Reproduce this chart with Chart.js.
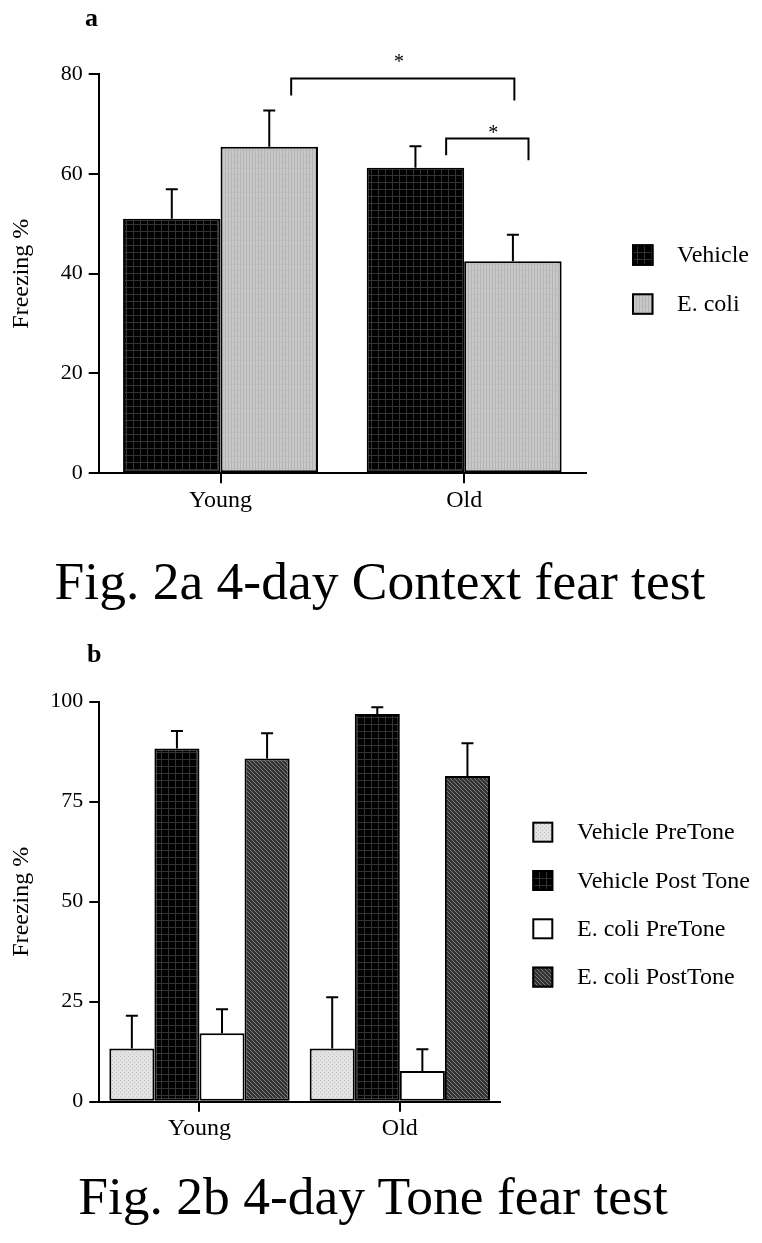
<!DOCTYPE html>
<html>
<head>
<meta charset="utf-8">
<script src="https://cdn.jsdelivr.net/npm/chart.js@4.4.1/dist/chart.umd.min.js"></script>
<style>
body{margin:0;background:#fff;width:762px;height:1243px;overflow:hidden;position:relative;font-family:'Liberation Serif','Times New Roman',serif;color:#000}
canvas{position:absolute;left:0}
#chartA{top:0}
#chartB{top:640px}
.panel{position:absolute;font-weight:bold;font-size:26px;line-height:26px}
.caption{position:absolute;font-size:53.5px;line-height:53.5px;white-space:nowrap;transform:translateX(-50%)}
</style>
</head>
<body>
<canvas id="chartA" width="762" height="530"></canvas>
<canvas id="chartB" width="762" height="530"></canvas>
<div class="panel" style="left:85px;top:5px">a</div>
<div class="panel" style="left:87px;top:641px">b</div>
<div class="caption" style="left:380px;top:555px">Fig. 2a 4-day Context fear test</div>
<div class="caption" style="left:373px;top:1170px">Fig. 2b 4-day Tone fear test</div>
<script>
//----------------------------------DATA-----------------------------------------------------------

const groups = ['Young', 'Old']

// fig 2a - context fear test
const ticksA = [0, 20, 40, 60, 80]
const vehicleA = [51.0, 61.2]
const vehicleErrA = [5.9, 4.3]
const ecoliA = [65.4, 42.5]
const ecoliErrA = [7.3, 5.3]
// significance brackets (x in category units, y in freezing %)
const bracketsA = [
    {from: 0.29, to: 1.206, top: 79.1, leftEnd: 75.7, rightEnd: 74.7, starX: 0.733, starY: 83.4},
    {from: 0.926, to: 1.264, top: 67.1, leftEnd: 63.7, rightEnd: 62.7, starX: 1.119, starY: 69.2},
]

// fig 2b - tone fear test
const ticksB = [0, 25, 50, 75, 100]
const vehPreB = [13.3, 13.3]
const vehPreErrB = [8.2, 12.8]
const vehPostB = [88.3, 96.9]
const vehPostErrB = [4.4, 1.7]
const ecoPreB = [17.1, 7.7]
const ecoPreErrB = [6.0, 5.4]
const ecoPostB = [85.8, 81.4]
const ecoPostErrB = [6.3, 8.2]

const FONT = "'Liberation Serif', 'Times New Roman', serif"

//----------------------------------PATTERNS-----------------------------------------------------------

function makePattern(size, base, drawFn){
    let c = document.createElement('canvas')
    c.width = size
    c.height = size
    let g = c.getContext('2d')
    g.fillStyle = base
    g.fillRect(0, 0, size, size)
    drawFn(g)
    return g.createPattern(c, 'repeat')
}

const blackGrid = makePattern(7, '#000', (g) => {
    g.fillStyle = '#333'
    g.fillRect(0, 0, 7, 1)
    g.fillRect(0, 0, 1, 7)
})
const greyLines = makePattern(6, '#c9c9c9', (g) => {
    g.fillStyle = '#b3b3b3'
    g.fillRect(0, 0, 1, 6)
    g.fillRect(3, 0, 1, 6)
    g.fillStyle = '#bdbdbd'
    g.fillRect(0, 0, 6, 1)
})
const lightDots = makePattern(4, '#e2e2e2', (g) => {
    g.fillStyle = '#c4c4c4'
    g.fillRect(0, 0, 1, 1)
    g.fillRect(2, 2, 1, 1)
})
const darkHatch = makePattern(4, '#333', (g) => {
    g.fillStyle = '#7a7a7a'
    for(let i = 0; i < 4; i++) g.fillRect(i, i, 1, 1)
})

//----------------------------------PLUGINS-----------------------------------------------------------

const errorBars = {
    id: 'errorBars',
    afterDatasetsDraw(chart){
        let ctx = chart.ctx
        let yScale = chart.scales.y
        ctx.save()
        ctx.strokeStyle = '#000'
        ctx.lineWidth = 2
        chart.data.datasets.forEach((ds, i) => {
            let meta = chart.getDatasetMeta(i)
            meta.data.forEach((bar, j) => {
                let yTop = yScale.getPixelForValue(ds.data[j] + ds.errors[j])
                ctx.beginPath()
                ctx.moveTo(bar.x, bar.y)
                ctx.lineTo(bar.x, yTop)
                ctx.moveTo(bar.x - 6, yTop)
                ctx.lineTo(bar.x + 6, yTop)
                ctx.stroke()
            })
        })
        ctx.restore()
    }
}

const brackets = {
    id: 'brackets',
    afterDatasetsDraw(chart, args, opts){
        if(!opts.items) return
        let ctx = chart.ctx
        let xs = chart.scales.x
        let ys = chart.scales.y
        ctx.save()
        ctx.strokeStyle = '#000'
        ctx.lineWidth = 2
        ctx.fillStyle = '#000'
        ctx.font = `20px ${FONT}`
        ctx.textAlign = 'center'
        ctx.textBaseline = 'alphabetic'
        for(let b of opts.items){
            let x1 = xs.getPixelForValue(b.from)
            let x2 = xs.getPixelForValue(b.to)
            ctx.beginPath()
            ctx.moveTo(x1, ys.getPixelForValue(b.leftEnd))
            ctx.lineTo(x1, ys.getPixelForValue(b.top))
            ctx.lineTo(x2, ys.getPixelForValue(b.top))
            ctx.lineTo(x2, ys.getPixelForValue(b.rightEnd))
            ctx.stroke()
            ctx.fillText('*', xs.getPixelForValue(b.starX), ys.getPixelForValue(b.starY) + 11)
        }
        ctx.restore()
    }
}

const boxLegend = {
    id: 'boxLegend',
    afterDraw(chart, args, opts){
        let ctx = chart.ctx
        ctx.save()
        ctx.font = `${opts.size}px ${FONT}`
        ctx.textBaseline = 'middle'
        ctx.textAlign = 'left'
        chart.data.datasets.forEach((ds, i) => {
            let y = opts.top + i * opts.gap
            ctx.fillStyle = ds.backgroundColor
            ctx.fillRect(opts.x, y, opts.box, opts.box)
            ctx.strokeStyle = '#000'
            ctx.lineWidth = 2
            ctx.strokeRect(opts.x + 1, y + 1, opts.box - 2, opts.box - 2)
            ctx.fillStyle = '#000'
            ctx.fillText(ds.label, opts.textX, y + opts.box / 2 + 1)
        })
        ctx.restore()
    }
}

//----------------------------------CHART UTILITY-----------------------------------------------------------

function getConfig(datasets, yTicks, yWidth, padding, legend, bracketItems){
    return {
        type: 'bar',
        data: {labels: groups, datasets: datasets},
        plugins: [errorBars, brackets, boxLegend],
        options: {
            responsive: false,
            animation: false,
            events: [],
            layout: {padding: padding},
            plugins: {
                legend: {display: false},
                tooltip: {enabled: false},
                boxLegend: legend,
                brackets: {items: bracketItems}
            },
            scales: {
                x: {
                    grid: {display: true, offset: false, drawOnChartArea: false, drawTicks: true, tickLength: 10, color: '#000', lineWidth: 2},
                    border: {display: true, color: '#000', width: 2},
                    ticks: {color: '#000', font: {family: FONT, size: 24}, padding: 3, maxRotation: 0},
                    afterFit: (s) => { s.height = 40 }
                },
                y: {
                    min: yTicks[0],
                    max: yTicks[yTicks.length - 1],
                    afterBuildTicks: (s) => { s.ticks = yTicks.map(v => ({value: v})) },
                    grid: {display: true, drawOnChartArea: false, drawTicks: true, tickLength: 10, color: '#000', lineWidth: 2},
                    border: {display: true, color: '#000', width: 2},
                    ticks: {color: '#000', font: {family: FONT, size: 22}, padding: 6},
                    title: {display: true, text: 'Freezing %', color: '#000', font: {family: FONT, size: 24}, padding: {top: 7, bottom: 0}},
                    afterFit: (s) => { s.width = yWidth }
                }
            }
        }
    }
}

function barSet(label, data, errors, fill){
    return {
        label: label,
        data: data,
        errors: errors,
        backgroundColor: fill,
        borderColor: '#000',
        borderWidth: 2,
        borderSkipped: false,
        barPercentage: 1.0
    }
}

//----------------------------------MAIN STUFF-----------------------------------------------------------

let dsA = [
    barSet('Vehicle', vehicleA, vehicleErrA, blackGrid),
    barSet('E. coli', ecoliA, ecoliErrA, greyLines)
]
dsA.forEach(d => d.categoryPercentage = 0.8)
new Chart(document.getElementById('chartA'), getConfig(
    dsA, ticksA, 98.7,
    {top: 74, right: 176, bottom: 16.7, left: 0},
    {x: 632, top: 244.3, gap: 49, box: 21.5, textX: 677, size: 24},
    bracketsA
))

let dsB = [
    barSet('Vehicle PreTone', vehPreB, vehPreErrB, lightDots),
    barSet('Vehicle Post Tone', vehPostB, vehPostErrB, blackGrid),
    barSet('E. coli PreTone', ecoPreB, ecoPreErrB, '#fff'),
    barSet('E. coli PostTone', ecoPostB, ecoPostErrB, darkHatch)
]
dsB.forEach(d => d.categoryPercentage = 0.9)
new Chart(document.getElementById('chartB'), getConfig(
    dsB, ticksB, 99.3,
    {top: 61.7, right: 262, bottom: 28.3, left: 0},
    {x: 532.3, top: 181.7, gap: 48.3, box: 21, textX: 577, size: 24},
    null
))
</script>
</body>
</html>
